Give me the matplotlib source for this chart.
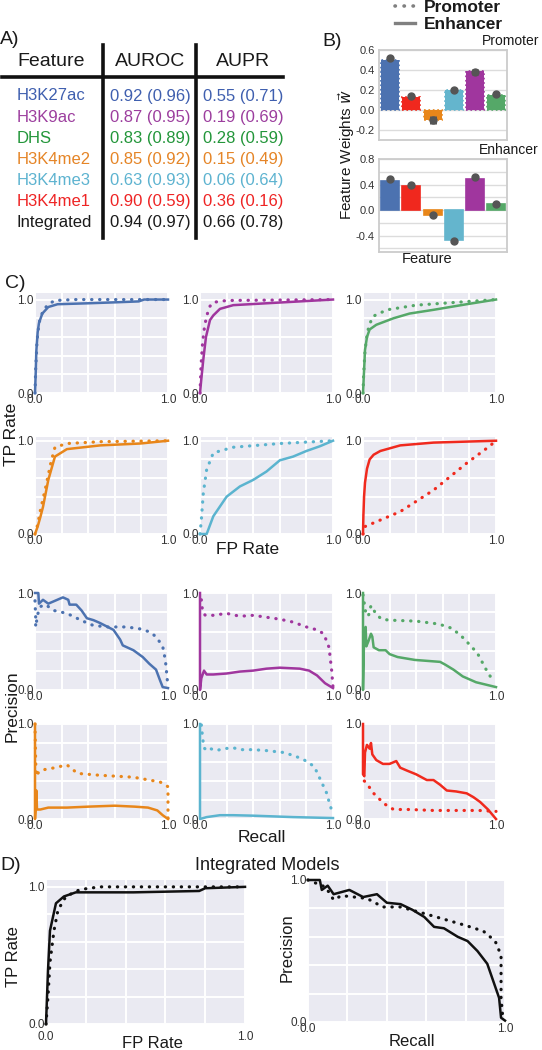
import numpy as np
import matplotlib.pyplot as plt
from matplotlib.lines import Line2D

plt.rcParams['font.family'] = ['Liberation Sans', 'DejaVu Sans']
plt.rcParams['mathtext.fontset'] = 'dejavusans'

W, H = 542, 1050

# ---- A) table ----
features = ['H3K27ac', 'H3K9ac', 'DHS', 'H3K4me2', 'H3K4me3', 'H3K4me1', 'Integrated']
auroc_enh = [0.92, 0.87, 0.83, 0.85, 0.63, 0.90, 0.94]
auroc_prom = [0.96, 0.95, 0.89, 0.92, 0.93, 0.59, 0.97]
aupr_enh = [0.55, 0.19, 0.28, 0.15, 0.06, 0.36, 0.66]
aupr_prom = [0.71, 0.69, 0.59, 0.49, 0.64, 0.16, 0.78]
table_colors = ['#3f5faf', '#9c3e9e', '#23963a', '#e58527', '#5db3d0', '#ee2424', '#1a1a1a']

# ---- B) feature weights ----
bar_features = ['H3K27ac', 'H3K4me1', 'H3K4me2', 'H3K4me3', 'H3K9ac', 'DHS']
bar_colors = ['#4C72B0', '#F0281E', '#E8861A', '#64B5CD', '#A0369E', '#55A868']
w_prom = [0.50, 0.13, -0.10, 0.20, 0.39, 0.15]
w_prom_pts = [0.52, 0.14, -0.10, 0.20, 0.38, 0.16]
w_prom_spread = [0.02, 0.01, 0.04, 0.01, 0.03, 0.01]
w_enh = [0.46, 0.38, -0.07, -0.47, 0.49, 0.09]
w_enh_pts = [0.48, 0.39, -0.08, -0.48, 0.51, 0.10]
w_enh_spread = [0.01, 0.02, 0.02, 0.02, 0.02, 0.01]

# ---- C) ROC curves (FP rate, TP rate) ----
roc_k27ac_prom = [(0, 0), (0.005, 0.25), (0.015, 0.55), (0.03, 0.75), (0.06, 0.88), (0.1, 0.95),
                  (0.15, 0.99), (0.3, 1.0), (1.0, 1.0)]
roc_k27ac_enh = [(0, 0), (0.005, 0.2), (0.01, 0.45), (0.02, 0.65), (0.03, 0.75), (0.055, 0.85),
                 (0.1, 0.92), (0.17, 0.95), (0.4, 0.96), (0.6, 0.97), (0.78, 0.98), (0.82, 1.0), (1.0, 1.0)]
roc_k9ac_prom = [(0, 0), (0.008, 0.3), (0.02, 0.55), (0.035, 0.72), (0.05, 0.82), (0.07, 0.92),
                 (0.1, 0.97), (0.2, 0.99), (1.0, 1.0)]
roc_k9ac_enh = [(0, 0), (0.01, 0.15), (0.025, 0.36), (0.045, 0.6), (0.075, 0.78), (0.1, 0.83),
                (0.15, 0.9), (0.25, 0.94), (0.5, 0.96), (0.75, 0.98), (1.0, 1.0)]
roc_dhs_prom = [(0, 0), (0.005, 0.2), (0.015, 0.45), (0.03, 0.62), (0.045, 0.72), (0.075, 0.82),
                (0.18, 0.89), (0.4, 0.94), (0.7, 0.97), (1.0, 1.0)]
roc_dhs_enh = [(0, 0), (0.005, 0.15), (0.01, 0.3), (0.015, 0.46), (0.03, 0.6), (0.05, 0.68),
               (0.1, 0.73), (0.23, 0.8), (0.35, 0.85), (0.53, 0.89), (0.78, 0.95), (1.0, 1.0)]
roc_k4me2_prom = [(0, 0), (0.02, 0.1), (0.04, 0.25), (0.08, 0.5), (0.12, 0.77), (0.15, 0.93),
                  (0.24, 0.97), (0.5, 0.99), (1.0, 1.0)]
roc_k4me2_enh = [(0, 0), (0.02, 0.08), (0.04, 0.18), (0.06, 0.29), (0.1, 0.58), (0.15, 0.83),
                 (0.24, 0.91), (0.49, 0.95), (0.79, 0.97), (1.0, 1.0)]
roc_k4me3_prom = [(0, 0), (0.01, 0.15), (0.025, 0.44), (0.05, 0.69), (0.1, 0.87), (0.25, 0.93),
                  (0.6, 0.97), (1.0, 1.0)]
roc_k4me3_enh = [(0, 0), (0.05, 0.0), (0.1, 0.19), (0.2, 0.4), (0.3, 0.51), (0.4, 0.58),
                 (0.5, 0.67), (0.6, 0.79), (0.7, 0.83), (0.8, 0.89), (0.9, 0.94), (1.0, 1.0)]
roc_k4me1_prom = [(0, 0), (0.015, 0.08), (0.28, 0.24), (0.53, 0.47), (0.78, 0.76), (0.95, 0.94),
                  (1.0, 1.0)]
roc_k4me1_enh = [(0, 0), (0.003, 0.2), (0.008, 0.4), (0.015, 0.55), (0.03, 0.7), (0.05, 0.8),
                 (0.08, 0.85), (0.13, 0.89), (0.28, 0.95), (0.53, 0.98), (1.0, 1.0)]

# ---- C) PR curves (recall, precision) ----
pr_k27ac_prom = [(0, 0.92), (0.005, 0.75), (0.005, 0.65), (0.02, 0.78), (0.04, 0.86), (0.08, 0.88),
                 (0.14, 0.82), (0.24, 0.79), (0.36, 0.71), (0.43, 0.67), (0.53, 0.65), (0.69, 0.65),
                 (0.79, 0.63), (0.86, 0.6), (0.91, 0.55), (0.96, 0.45), (0.98, 0.31), (1.0, 0.03)]
pr_k27ac_enh = [(0, 1.0), (0.025, 1.0), (0.03, 0.89), (0.06, 0.93), (0.1, 0.89), (0.21, 0.955),
                (0.25, 0.93), (0.26, 0.88), (0.31, 0.88), (0.35, 0.82), (0.39, 0.74), (0.44, 0.72),
                (0.49, 0.69), (0.59, 0.62), (0.64, 0.52), (0.66, 0.46), (0.74, 0.41), (0.81, 0.34),
                (0.86, 0.27), (0.91, 0.21), (0.94, 0.1), (0.96, 0.03), (1.0, 0.02)]
pr_k9ac_prom = [(0.01, 0.93), (0.02, 0.8), (0.04, 0.77), (0.1, 0.77), (0.2, 0.79), (0.3, 0.76),
                (0.4, 0.77), (0.5, 0.75), (0.6, 0.73), (0.7, 0.7), (0.8, 0.65), (0.88, 0.62),
                (0.93, 0.58), (0.97, 0.44), (0.99, 0.2), (1.0, 0.03)]
pr_k9ac_enh = [(0, 1.0), (0, 0.0), (0.01, 0.12), (0.03, 0.2), (0.05, 0.16), (0.1, 0.16),
               (0.2, 0.17), (0.3, 0.19), (0.4, 0.2), (0.5, 0.22), (0.6, 0.23), (0.75, 0.22),
               (0.82, 0.2), (0.88, 0.15), (0.94, 0.07), (1.0, 0.02)]
pr_dhs_prom = [(0, 0.98), (0.02, 0.8), (0.04, 0.76), (0.06, 0.87), (0.1, 0.78), (0.14, 0.73),
               (0.2, 0.72), (0.4, 0.71), (0.57, 0.68), (0.66, 0.64), (0.73, 0.57), (0.8, 0.47),
               (0.86, 0.38), (0.93, 0.2), (0.98, 0.09)]
pr_dhs_enh = [(0, 1.0), (0, 0.0), (0.005, 0.35), (0.01, 0.62), (0.02, 0.65), (0.025, 0.45),
              (0.04, 0.5), (0.06, 0.58), (0.07, 0.55), (0.08, 0.44), (0.12, 0.41), (0.17, 0.41),
              (0.2, 0.37), (0.26, 0.34), (0.39, 0.31), (0.58, 0.29), (0.62, 0.26), (0.68, 0.21),
              (0.75, 0.14), (0.85, 0.08), (1.0, 0.03)]
pr_k4me2_prom = [(0, 1.0), (0.005, 0.6), (0.01, 0.45), (0.03, 0.5), (0.07, 0.52), (0.15, 0.54),
                 (0.24, 0.57), (0.32, 0.48), (0.49, 0.46), (0.74, 0.44), (0.94, 0.39), (1.0, 0.34),
                 (1.0, 0.0)]
pr_k4me2_enh = [(0, 1.0), (0, 0.0), (0.005, 0.12), (0.01, 0.3), (0.015, 0.1), (0.04, 0.1),
                (0.1, 0.12), (0.24, 0.12), (0.4, 0.13), (0.6, 0.14), (0.75, 0.13), (0.85, 0.12),
                (0.92, 0.09), (0.96, 0.04), (1.0, 0.0)]
pr_k4me3_prom = [(0.01, 0.99), (0.02, 0.85), (0.03, 0.75), (0.05, 0.72), (0.08, 0.74), (0.12, 0.72),
                 (0.18, 0.74), (0.25, 0.75), (0.3, 0.73), (0.4, 0.73), (0.5, 0.72), (0.63, 0.7),
                 (0.72, 0.66), (0.8, 0.61), (0.86, 0.55), (0.9, 0.43), (0.95, 0.28), (0.99, 0.09)]
pr_k4me3_enh = [(0, 1.0), (0, 0.0), (0.05, 0.02), (0.15, 0.04), (0.25, 0.04), (0.4, 0.035),
                (0.5, 0.03), (0.7, 0.02), (0.85, 0.015), (1.0, 0.01)]
pr_k4me1_prom = [(0.01, 0.4), (0.03, 0.37), (0.08, 0.27), (0.16, 0.16), (0.23, 0.1), (0.35, 0.1),
                 (0.53, 0.09), (0.7, 0.09), (0.87, 0.09), (1.0, 0.08)]
pr_k4me1_enh = [(0, 1.0), (0, 0.47), (0.01, 0.45), (0.015, 0.7), (0.03, 0.78), (0.05, 0.74),
                (0.06, 0.8), (0.07, 0.68), (0.1, 0.62), (0.15, 0.58), (0.2, 0.58), (0.25, 0.61),
                (0.28, 0.54), (0.33, 0.51), (0.4, 0.47), (0.48, 0.41), (0.53, 0.41), (0.58, 0.36),
                (0.63, 0.3), (0.7, 0.29), (0.78, 0.27), (0.83, 0.23), (0.88, 0.18), (0.94, 0.1),
                (1.0, 0.0)]

# ---- D) integrated models ----
roc_int_prom = [(0, 0), (0.01, 0.2), (0.02, 0.45), (0.04, 0.68), (0.06, 0.83), (0.1, 0.93),
                (0.17, 0.98), (0.27, 1.0), (1.0, 1.0)]
roc_int_enh = [(0, 0), (0.01, 0.39), (0.02, 0.68), (0.05, 0.88), (0.09, 0.93), (0.15, 0.96),
               (0.44, 0.96), (0.77, 0.97), (0.8, 0.99), (1.0, 1.0)]
pr_int_prom = [(0, 1.0), (0.09, 0.95), (0.13, 0.86), (0.17, 0.89), (0.3, 0.87), (0.38, 0.81),
               (0.47, 0.81), (0.6, 0.76), (0.7, 0.72), (0.8, 0.68), (0.89, 0.64), (0.95, 0.57),
               (0.98, 0.47), (0.98, 0.17), (0.99, 0.01)]
pr_int_enh = [(0, 1.0), (0.06, 1.0), (0.07, 0.93), (0.1, 0.96), (0.13, 0.9), (0.21, 0.93),
              (0.28, 0.88), (0.35, 0.9), (0.4, 0.84), (0.47, 0.83), (0.53, 0.79), (0.59, 0.74),
              (0.64, 0.67), (0.69, 0.66), (0.76, 0.6), (0.81, 0.57), (0.86, 0.5), (0.91, 0.41),
              (0.94, 0.29), (0.97, 0.17), (0.98, 0.03), (1.0, 0.01)]

fig = plt.figure(figsize=(W / 100, H / 100), dpi=100)
TXT = '#1a1a1a'


def box(l, t, r, b):
    return [l / W, 1 - b / H, (r - l) / W, (b - t) / H]


def px_text(x, y, s, **kw):
    kw.setdefault('color', TXT)
    return fig.text(x / W, 1 - y / H, s, **kw)


def px_line(xs, ys, **kw):
    fig.add_artist(Line2D([x / W for x in xs], [1 - y / H for y in ys],
                          transform=fig.transFigure, **kw))


# table
px_text(0, 40, 'A)', fontsize=14, va='center')
px_text(17, 62, 'Feature', fontsize=14, va='center')
px_text(150, 62, 'AUROC', fontsize=14, va='center', ha='center')
px_text(243, 62, 'AUPR', fontsize=14, va='center', ha='center')
px_line([2, 283], [77, 77], color='#111111', lw=2.6)
px_line([103, 103], [45, 238], color='#111111', lw=2.6)
px_line([196, 196], [45, 238], color='#111111', lw=2.6)
for i, name in enumerate(features):
    y = 96 + i * 21.1
    c = table_colors[i]
    px_text(17, y, name, fontsize=12, color=c, va='center')
    px_text(110, y, f'{auroc_enh[i]:.2f} ({auroc_prom[i]:.2f})', fontsize=12, color=c, va='center')
    px_text(203, y, f'{aupr_enh[i]:.2f} ({aupr_prom[i]:.2f})', fontsize=12, color=c, va='center')

# legend
DOT = (0, (0.1, 2.4))
handles = [Line2D([], [], color='#808080', lw=2.6, ls=DOT, dash_capstyle='round'),
           Line2D([], [], color='#808080', lw=2.4)]
fig.legend(handles, ['Promoter', 'Enhancer'], loc='upper left',
           bbox_to_anchor=(395 / W, 1 - 0 / H), frameon=False,
           prop={'weight': 'bold', 'size': 12.5}, handlelength=1.15, handletextpad=0.5,
           labelspacing=0.12, borderpad=0, borderaxespad=0, labelcolor=TXT)

# B) bar charts
px_text(322, 42, 'B)', fontsize=14, va='center')
xb = np.arange(len(bar_features))


def bar_axes(rect, vals, pts, spread, ylim, ticks, minor, ls, title):
    ax = fig.add_axes(box(*rect))
    ax.bar(xb, vals, width=0.84, color=bar_colors, edgecolor=bar_colors, linewidth=1.2,
           linestyle=ls, zorder=2)
    ax.errorbar(xb, pts, yerr=spread, fmt='o', color='#555555', ms=5, elinewidth=5,
                capsize=0, zorder=3)
    ax.set_xlim(-0.52, 5.5)
    ax.set_ylim(*ylim)
    ax.set_xticks([])
    ax.set_yticks(ticks)
    ax.set_yticklabels([f'{t:.1f}' for t in ticks])
    ax.set_yticks(minor, minor=True)
    ax.grid(axis='y', which='both', color='#dcdcdc', lw=1.0)
    ax.set_axisbelow(True)
    for s in ax.spines.values():
        s.set_color('#cccccc')
        s.set_linewidth(1.3)
    ax.tick_params(axis='y', which='both', length=0, labelsize=8, pad=3, colors='#333333')
    ax.text(1.25, 1.02, title, transform=ax.transAxes, ha='right', va='bottom',
            fontsize=10, color=TXT)
    return ax


bar_axes((379, 49.5, 507, 140), w_prom, w_prom_pts, w_prom_spread, (-0.3, 0.6),
         [-0.2, 0.0, 0.2, 0.4, 0.6], [], ':', 'Promoter')
bar_axes((379, 159, 507, 251.5), w_enh, w_enh_pts, w_enh_spread, (-0.65, 0.8),
         [-0.4, 0.0, 0.4, 0.8], [-0.6, -0.2, 0.2, 0.6], '-', 'Enhancer')
px_text(347, 155, r'Feature Weights $\vec{w}$', fontsize=11, rotation=90,
        ha='center', va='center')
px_text(427, 259, 'Feature', fontsize=10.5, ha='center', va='center')


# C) and D) curve panels
def curve_axes(rect, ytop, xpad=1):
    ax = fig.add_axes(box(*rect))
    ax.set_facecolor('#EAEAF2')
    for s in ax.spines.values():
        s.set_visible(False)
    ax.set_xlim(0, 1)
    ax.set_ylim(0, ytop)
    ax.set_xticks([0, 1])
    ax.set_xticklabels(['0.0', '1.0'])
    ax.set_yticks([0, 1])
    ax.set_yticklabels(['0.0', '1.0'])
    ax.set_xticks([0.2, 0.4, 0.6, 0.8], minor=True)
    ax.set_yticks([0.2, 0.4, 0.6, 0.8], minor=True)
    ax.grid(True, which='both', color='white', lw=1.4)
    ax.set_axisbelow(True)
    ax.tick_params(which='both', length=0, labelsize=8.5, pad=1, colors='#333333')
    ax.tick_params(axis='x', pad=xpad)
    return ax


def draw(ax, pts, color, dotted):
    xs = [p[0] for p in pts]
    ys = [p[1] for p in pts]
    if dotted:
        ax.plot(xs, ys, color=color, lw=2.3, ls=DOT, dash_capstyle='round', clip_on=False)
    else:
        ax.plot(xs, ys, color=color, lw=1.8, clip_on=False)


line_colors = ['#4C72B0', '#A0369E', '#55A868', '#E8861A', '#5BB4CF', '#F02A1E']
roc_prom = [roc_k27ac_prom, roc_k9ac_prom, roc_dhs_prom, roc_k4me2_prom, roc_k4me3_prom, roc_k4me1_prom]
roc_enh = [roc_k27ac_enh, roc_k9ac_enh, roc_dhs_enh, roc_k4me2_enh, roc_k4me3_enh, roc_k4me1_enh]
pr_prom = [pr_k27ac_prom, pr_k9ac_prom, pr_dhs_prom, pr_k4me2_prom, pr_k4me3_prom, pr_k4me1_prom]
pr_enh = [pr_k27ac_enh, pr_k9ac_enh, pr_dhs_enh, pr_k4me2_enh, pr_k4me3_enh, pr_k4me1_enh]

col_px = [(35, 168), (200, 333), (363, 496)]
roc_rows = [(293, 393, 1.07), (437, 534, 1.04)]
pr_rows = [(593, 690, 1.0), (724, 819, 1.0)]

px_text(5, 283, 'C)', fontsize=14, va='center')
for k in range(6):
    r, c = divmod(k, 3)
    l, rr = col_px[c]
    t, b, ytop = roc_rows[r]
    ax = curve_axes((l, t, rr, b), ytop)
    draw(ax, roc_prom[k], line_colors[k], True)
    draw(ax, roc_enh[k], line_colors[k], False)
    t, b, ytop = pr_rows[r]
    ax = curve_axes((l, t, rr, b), ytop)
    draw(ax, pr_prom[k], line_colors[k], True)
    draw(ax, pr_enh[k], line_colors[k], False)

px_text(12, 434, 'TP Rate', fontsize=12.5, rotation=90, ha='center', va='center')
px_text(248, 550, 'FP Rate', fontsize=12.5, ha='center', va='center')
px_text(12, 706, 'Precision', fontsize=12.5, rotation=90, ha='center', va='center')
px_text(262, 838, 'Recall', fontsize=12.5, ha='center', va='center')

px_text(0, 866, 'D)', fontsize=14, va='center')
px_text(267, 866, 'Integrated Models', fontsize=13, ha='center', va='center')
ax = curve_axes((46, 880, 245, 1024), 1.05, xpad=5)
draw(ax, roc_int_prom, '#111111', True)
draw(ax, roc_int_enh, '#111111', False)
ax = curve_axes((308, 880, 505, 1022), 1.0, xpad=1)
draw(ax, pr_int_prom, '#111111', True)
draw(ax, pr_int_enh, '#111111', False)

px_text(13, 957, 'TP Rate', fontsize=12, rotation=90, ha='center', va='center')
px_text(152, 1043, 'FP Rate', fontsize=12, ha='center', va='center')
px_text(287, 948, 'Precision', fontsize=12, rotation=90, ha='center', va='center')
px_text(412, 1042, 'Recall', fontsize=12, ha='center', va='center')

fig.savefig('out.png', dpi=100)
